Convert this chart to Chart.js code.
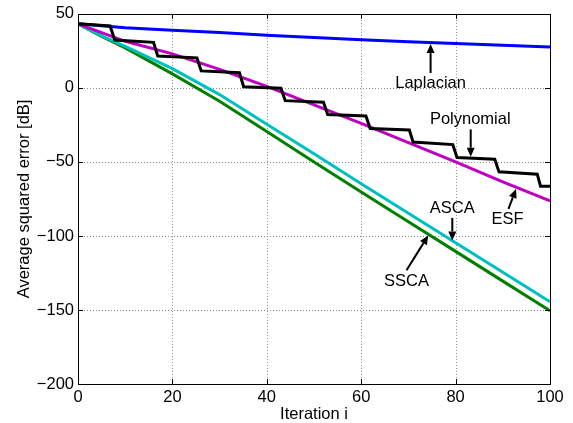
<!DOCTYPE html>
<html>
<head>
<meta charset="utf-8">
<script src="https://cdn.jsdelivr.net/npm/chart.js@4/dist/chart.umd.min.js"></script>
<style>
  html, body { margin: 0; padding: 0; background: #fff; }
  #wrap { width: 573px; height: 423px; }
</style>
</head>
<body>
<div id="wrap"><canvas id="c" width="573" height="423"></canvas></div>
<script>
// values (iteration, dB)
const lapX = [0, 10, 20, 30, 40, 50, 60, 70, 80, 90, 100];
const lapY = [43.3, 40.6, 39, 37.4, 35.6, 34, 32.6, 31.2, 30, 28.8, 27.6];

const esfX = [0, 10, 20, 30, 40, 50, 60, 70, 80, 90, 100];
const esfY = [43.3, 31.5, 23, 12.5, 1, -11.5, -24, -37, -50, -63.5, -76.3];

const ascaX = [0, 5, 10, 20, 30, 40, 50, 60, 70, 80, 90, 100];
const ascaY = [43.3, 35.2, 28, 13, -4.5, -24.5, -44.5, -64.7, -84.6, -104.6, -124.5, -144.5];

const sscaX = [0, 5, 10, 20, 30, 40, 50, 60, 70, 80, 90, 100];
const sscaY = [43.3, 34.8, 27, 9.5, -9, -29.5, -50, -70.3, -90.4, -110.4, -130.5, -150.5];

// staircase corners of the polynomial filter curve
const polyX = [0, 6.8, 7.8, 16, 16.9, 25.2, 26.1, 34.2, 35.1, 43, 43.9, 52, 52.9, 61, 61.9, 70.2, 71, 79.4, 80.3, 88.3, 89.2, 97.3, 98, 100];
const polyY = [43.3, 41.8, 32.3, 30.8, 21.5, 20.3, 11.5, 10.2, 0.8, -0.2, -8.6, -9.6, -18, -19, -27.4, -28.4, -36.6, -38.3, -47, -48.2, -56.7, -58.3, -66.5, -66.5];

const xTicks = [0, 20, 40, 60, 80, 100];
const yTicks = [-200, -150, -100, -50, 0, 50];

// text labels with arrows, in data units
const notes = [
  { text: 'Laplacian',  at: [74.7, 3.2],    from: [74.7, 10.1],   to: [74.7, 29.6] },
  { text: 'Polynomial', at: [83.1, -21.4],  from: [83.2, -28],    to: [83.2, -46.5] },
  { text: 'ESF',        at: [91, -89],      from: [91.2, -81.7],  to: [92.8, -68.2] },
  { text: 'ASCA',       at: [79.3, -81.7],  from: [79.3, -87.8],  to: [79.3, -103] },
  { text: 'SSCA',       at: [69.6, -130.8], from: [69.6, -123.2], to: [74.2, -99.7] }
];

const FONT = '"Liberation Sans", Arial, Helvetica, sans-serif';
const FS = 16.5;

function pts(xs, ys) {
  return xs.map((x, i) => ({ x: x, y: ys[i] }));
}

function series(label, xs, ys, color, order) {
  return {
    label: label,
    data: pts(xs, ys),
    borderColor: color,
    backgroundColor: color,
    borderWidth: 3,
    pointRadius: 0,
    tension: 0,
    fill: false,
    order: order
  };
}

const minus = v => String(v).replace('-', '\u2212');

function drawArrow(ctx, x1, y1, x2, y2) {
  const ang = Math.atan2(y2 - y1, x2 - x1);
  const hl = 9, hw = 4;
  const bx = x2 - hl * Math.cos(ang), by = y2 - hl * Math.sin(ang);
  ctx.beginPath();
  ctx.moveTo(x1, y1);
  ctx.lineTo(bx, by);
  ctx.stroke();
  ctx.beginPath();
  ctx.moveTo(x2, y2);
  ctx.lineTo(bx + hw * Math.sin(ang), by - hw * Math.cos(ang));
  ctx.lineTo(bx - hw * Math.sin(ang), by + hw * Math.cos(ang));
  ctx.closePath();
  ctx.fill();
}

const frame = {
  id: 'frame',
  beforeDatasetsDraw(chart) {
    const { ctx, chartArea: a, scales: { x, y } } = chart;
    ctx.save();
    ctx.strokeStyle = '#8c8c8c';
    ctx.lineWidth = 1;
    ctx.setLineDash([1, 2]);
    xTicks.slice(1, -1).forEach(v => {
      const px = Math.round(x.getPixelForValue(v)) + 0.5;
      ctx.beginPath(); ctx.moveTo(px, a.top); ctx.lineTo(px, a.bottom); ctx.stroke();
    });
    yTicks.slice(1, -1).forEach(v => {
      const py = Math.round(y.getPixelForValue(v)) + 0.5;
      ctx.beginPath(); ctx.moveTo(a.left, py); ctx.lineTo(a.right, py); ctx.stroke();
    });
    ctx.restore();
  },
  afterDatasetsDraw(chart) {
    const { ctx, chartArea: a, scales: { x, y } } = chart;
    ctx.save();
    // box
    ctx.strokeStyle = '#000';
    ctx.lineWidth = 1;
    ctx.strokeRect(Math.round(a.left) + 0.5, Math.round(a.top) + 0.5,
      Math.round(a.right - a.left), Math.round(a.bottom - a.top));
    // inward ticks
    const tl = 5;
    ctx.beginPath();
    xTicks.forEach(v => {
      const px = Math.round(x.getPixelForValue(v)) + 0.5;
      ctx.moveTo(px, a.bottom); ctx.lineTo(px, a.bottom - tl);
      ctx.moveTo(px, a.top); ctx.lineTo(px, a.top + tl);
    });
    yTicks.forEach(v => {
      const py = Math.round(y.getPixelForValue(v)) + 0.5;
      ctx.moveTo(a.left, py); ctx.lineTo(a.left + tl, py);
      ctx.moveTo(a.right, py); ctx.lineTo(a.right - tl, py);
    });
    ctx.stroke();

    // annotations
    ctx.fillStyle = '#000';
    ctx.strokeStyle = '#000';
    ctx.lineWidth = 2;
    ctx.font = FS + 'px ' + FONT;
    ctx.textAlign = 'center';
    ctx.textBaseline = 'middle';
    notes.forEach(n => {
      ctx.fillText(n.text, x.getPixelForValue(n.at[0]), y.getPixelForValue(n.at[1]));
      drawArrow(ctx,
        x.getPixelForValue(n.from[0]), y.getPixelForValue(n.from[1]),
        x.getPixelForValue(n.to[0]), y.getPixelForValue(n.to[1]));
    });

    // axis titles
    ctx.fillText('Iteration i', (a.left + a.right) / 2, 414);
    ctx.save();
    ctx.translate(24, (a.top + a.bottom) / 2);
    ctx.rotate(-Math.PI / 2);
    ctx.fillText('Average squared error [dB]', 0, 0);
    ctx.restore();
    ctx.restore();
  }
};

new Chart(document.getElementById('c'), {
  type: 'line',
  data: {
    datasets: [
      series('Polynomial', polyX, polyY, '#000000', 1),
      series('Laplacian', lapX, lapY, '#0000ff', 2),
      series('ESF', esfX, esfY, '#bf00bf', 3),
      series('ASCA', ascaX, ascaY, '#00bfbf', 4),
      series('SSCA', sscaX, sscaY, '#008000', 5)
    ]
  },
  options: {
    responsive: false,
    animation: false,
    layout: { padding: { left: 0, top: 12, right: 23, bottom: 0 } },
    plugins: { legend: { display: false }, tooltip: { enabled: false } },
    scales: {
      x: {
        type: 'linear',
        min: 0, max: 100,
        afterFit: s => { s.height = 39; },
        afterBuildTicks: s => { s.ticks = xTicks.map(v => ({ value: v })); },
        grid: { display: false, drawTicks: false },
        border: { display: false },
        ticks: {
          autoSkip: false, maxRotation: 0, padding: 4, color: '#000',
          font: { family: FONT, size: FS },
          callback: v => minus(v)
        }
      },
      y: {
        type: 'linear',
        min: -200, max: 50,
        afterFit: s => { s.width = 78; },
        afterBuildTicks: s => { s.ticks = yTicks.map(v => ({ value: v })); },
        grid: { display: false, drawTicks: false },
        border: { display: false },
        ticks: {
          autoSkip: false, padding: 4, color: '#000',
          font: { family: FONT, size: FS },
          callback: v => minus(v)
        }
      }
    }
  },
  plugins: [frame]
});
</script>
</body>
</html>
